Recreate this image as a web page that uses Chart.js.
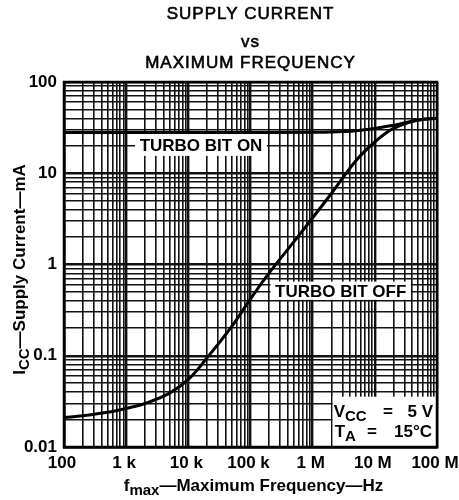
<!DOCTYPE html>
<html><head><meta charset="utf-8">
<script src="https://cdn.jsdelivr.net/npm/chart.js@4.4.1/dist/chart.umd.min.js"></script>
<style>html,body{margin:0;padding:0;background:#fff}canvas{display:block}</style>
</head><body>
<canvas id="c" width="459" height="500"></canvas>
<script>
// ---- data ----
const freqOff = [100, 200, 500, 1e3, 2e3, 5e3, 1e4, 2e4, 5e4, 1e5, 2e5, 5e5, 1e6, 2e6, 5e6, 1e7, 2e7, 5e7, 1e8];
const iccOff  = [0.021, 0.022, 0.024, 0.0265, 0.030, 0.039, 0.055, 0.095, 0.21, 0.42, 0.81, 1.78, 3.25, 6.0, 13.8, 22, 31, 38.3, 40];
const freqOn  = [100, 1e3, 1e4, 1e5, 1e6, 2e6, 5e6, 1e7, 2e7, 5e7, 1e8];
const iccOn   = [28, 28, 28, 28, 28.1, 28.3, 29.3, 31, 33.5, 38.3, 40];
const xTickValues = [100, 1e3, 1e4, 1e5, 1e6, 1e7, 1e8];
const xTickLabels = ['100', '1 k', '10 k', '100 k', '1 M', '10 M', '100 M'];
const yTickValues = [0.01, 0.1, 1, 10, 100];
const yTickLabels = ['0.01', '0.1', '1', '10', '100'];
const titleLines = ['SUPPLY CURRENT', 'vs', 'MAXIMUM FREQUENCY'];
const seriesNames = ['TURBO BIT ON', 'TURBO BIT OFF'];
const condLine1 = [{t:'V'}, {t:'CC', sub:true}];
const condLine2 = [{t:'T'}, {t:'A', sub:true}];
const yTitleParts = [{t:'I'}, {t:'CC', sub:true}, {t:'\u2014Supply Current\u2014mA'}];
const xTitleParts = [{t:'f'}, {t:'max', sub:true}, {t:'\u2014Maximum Frequency\u2014Hz'}];

const FAM = '"Liberation Sans", Arial, Helvetica, sans-serif';
const MAIN = 'bold 17px ' + FAM;
const SUB = 'bold 15px ' + FAM;

function logGrid(lo, hi) {
  const v = [];
  for (let e = lo; e < hi; e++) for (let m = 1; m < 10; m++) v.push(+(m * Math.pow(10, e)).toPrecision(6));
  v.push(Math.pow(10, hi));
  return v;
}
function isDecade(v) { const l = Math.log10(v); return Math.abs(l - Math.round(l)) < 1e-6; }
function lab(vals, labels, v) {
  const i = vals.findIndex(t => Math.abs(t - v) / t < 1e-6);
  return i >= 0 ? labels[i] : '';
}
function richWidth(ctx, parts) {
  let w = 0;
  parts.forEach(p => { ctx.font = p.sub ? SUB : MAIN; w += ctx.measureText(p.t).width; });
  return w;
}
function drawRich(ctx, parts, x, y) {
  let cx = x;
  parts.forEach(p => {
    ctx.font = p.sub ? SUB : MAIN;
    ctx.fillText(p.t, cx, y + (p.sub ? 4 : 0));
    cx += ctx.measureText(p.t).width;
  });
}

const deco = {
  id: 'deco',
  beforeDatasetsDraw(chart) {
    const {ctx, scales: {x, y}} = chart;
    const box = (x0, x1, y0, y1) => {
      const l = x.getPixelForValue(x0), r = x.getPixelForValue(x1);
      const t = y.getPixelForValue(y1), b = y.getPixelForValue(y0);
      return {l, r, t, b};
    };
    ctx.save();
    ctx.fillStyle = '#fff';
    const bOn = box(1390, 1.84e5, 15.5, 26.9);
    const bOff = box(2.1e5, 3.8e7, 0.41, 0.65);
    const bCond = box(2.1e6, 1e8, 0.01, 0.0356);
    [bOn, bOff, bCond].forEach(b => ctx.fillRect(b.l, b.t, b.r - b.l, b.b - b.t));
    ctx.fillStyle = '#000';
    ctx.textBaseline = 'alphabetic';
    ctx.font = MAIN;
    ctx.textAlign = 'center';
    ctx.fillText(seriesNames[0], (bOn.l + bOn.r) / 2, (bOn.t + bOn.b) / 2 + 6);
    ctx.fillText(seriesNames[1], (bOff.l + bOff.r) / 2, (bOff.t + bOff.b) / 2 + 6);
    ctx.textAlign = 'left';
    drawRich(ctx, condLine1, bCond.l + 1, bCond.t + 20);
    drawRich(ctx, condLine2, bCond.l + 2, bCond.t + 40);
    ctx.font = MAIN;
    ctx.textAlign = 'center';
    ctx.fillText('=', bCond.r - 49, bCond.t + 20);
    ctx.fillText('=', bCond.r - 65, bCond.t + 40);
    ctx.textAlign = 'right';
    ctx.fillText('5 V', bCond.r - 4, bCond.t + 20);
    ctx.fillText('15\u00B0C', bCond.r - 5, bCond.t + 40);
    ctx.restore();
  },
  afterDatasetsDraw(chart) {
    const {ctx, chartArea: a} = chart;
    ctx.save();
    ctx.strokeStyle = '#000';
    ctx.lineWidth = 2.5;
    ctx.strokeRect(a.left, a.top, a.right - a.left, a.bottom - a.top);
    ctx.restore();
  },
  afterDraw(chart) {
    const {ctx, chartArea: a} = chart;
    ctx.save();
    ctx.fillStyle = '#000';
    ctx.strokeStyle = '#000';
    ctx.lineWidth = 0.6;
    ctx.textAlign = 'center';
    ctx.textBaseline = 'alphabetic';
    ctx.font = '17px ' + FAM;
    try { ctx.letterSpacing = '1px'; } catch (e) {}
    const cx = (a.left + a.right) / 2;
    [[0, 19], [1, 47], [2, 68]].forEach(([i, yy]) => {
      ctx.fillText(titleLines[i], cx, yy);
      ctx.strokeText(titleLines[i], cx, yy);
    });
    try { ctx.letterSpacing = '0px'; } catch (e) {}
    ctx.textAlign = 'left';
    // x-axis title
    const wx = richWidth(ctx, xTitleParts);
    drawRich(ctx, xTitleParts, cx + 3 - wx / 2, 491);
    // y-axis title
    const wy = richWidth(ctx, yTitleParts);
    ctx.translate(25, (a.top + a.bottom) / 2 + 5);
    ctx.rotate(-Math.PI / 2);
    drawRich(ctx, yTitleParts, -wy / 2, 0);
    ctx.restore();
  }
};

const tickFont = {family: FAM, size: 17, weight: 'bold'};
new Chart(document.getElementById('c'), {
  type: 'line',
  data: {
    datasets: [
      {label: seriesNames[0], data: freqOn.map((f, i) => ({x: f, y: iccOn[i]})),
       borderColor: '#000', borderWidth: 3, pointRadius: 0, fill: false, cubicInterpolationMode: 'monotone'},
      {label: seriesNames[1], data: freqOff.map((f, i) => ({x: f, y: iccOff[i]})),
       borderColor: '#000', borderWidth: 3, pointRadius: 0, fill: false, tension: 0.4}
    ]
  },
  options: {
    responsive: false,
    animation: false,
    events: [],
    layout: {padding: {top: 82, right: 22, left: 0, bottom: 0}},
    plugins: {legend: {display: false}, title: {display: false}, tooltip: {enabled: false}},
    scales: {
      x: {
        type: 'logarithmic', position: 'bottom', min: 100, max: 1e8,
        afterBuildTicks: s => { s.ticks = logGrid(2, 8).map(v => ({value: v})); },
        afterFit: s => { s.height = 53; s.paddingLeft = 0; s.paddingRight = 0; },
        grid: {color: '#111', lineWidth: c => (c.tick && isDecade(c.tick.value)) ? 2.4 : 1.6, drawTicks: false},
        border: {display: true, color: '#000', width: 2.5},
        ticks: {autoSkip: false, maxRotation: 0, minRotation: 0, padding: 6, labelOffset: -2, color: '#000', font: tickFont,
                callback: v => lab(xTickValues, xTickLabels, v)}
      },
      y: {
        type: 'logarithmic', position: 'left', min: 0.01, max: 100,
        afterBuildTicks: s => { s.ticks = logGrid(-2, 2).map(v => ({value: v})); },
        afterFit: s => { s.width = 64; s.paddingTop = 0; s.paddingBottom = 0; },
        grid: {color: '#111', lineWidth: c => (c.tick && isDecade(c.tick.value)) ? 2.4 : 1.6, drawTicks: false},
        border: {display: true, color: '#000', width: 2.5},
        ticks: {autoSkip: false, padding: 7, color: '#000', font: tickFont,
                callback: v => lab(yTickValues, yTickLabels, v)}
      }
    }
  },
  plugins: [deco]
});
</script>
</body></html>
